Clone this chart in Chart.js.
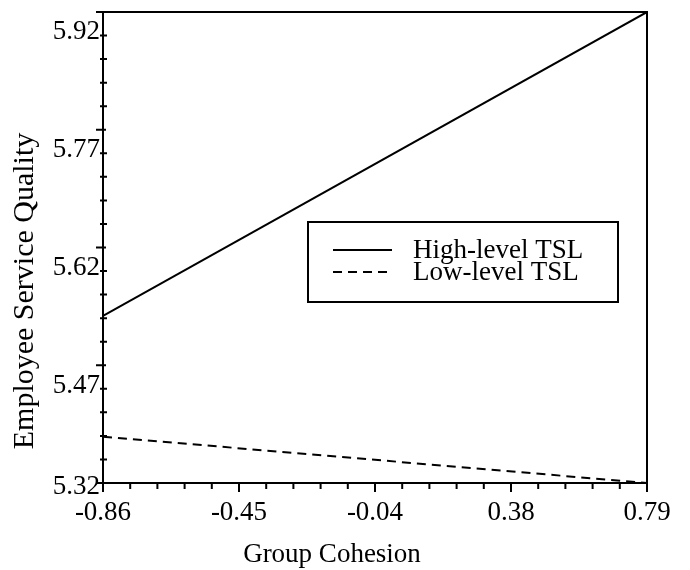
<!DOCTYPE html>
<html>
<head>
<meta charset="utf-8">
<script src="https://cdn.jsdelivr.net/npm/chart.js@4.4.0/dist/chart.umd.min.js"></script>
<style>
  html, body { margin: 0; padding: 0; background: #fff; }
</style>
</head>
<body>
<canvas id="myChart" width="690" height="570"></canvas>
<script>
// data
const groupCohesion = [-0.86, 0.79];
const highTSL = [5.533, 5.92];
const lowTSL = [5.379, 5.32];
const seriesNames = ["High-level TSL", "Low-level TSL"];

// tick values and labels
const xTicks = [-0.86, -0.4475, -0.035, 0.3775, 0.79];
const xTickLabels = ["-0.86", "-0.45", "-0.04", "0.38", "0.79"];
const yTicks = [5.32, 5.47, 5.62, 5.77, 5.92];
const yTickLabels = ["5.32", "5.47", "5.62", "5.77", "5.92"];
const minorPerMajor = 5;

const xTitle = "Group Cohesion";
const yTitle = "Employee Service Quality";

const serif = "'Liberation Serif', 'Times New Roman', serif";
const ctx = document.getElementById("myChart").getContext("2d");

function toPoints(xs, ys) {
  return xs.map((x, i) => ({ x: x, y: ys[i] }));
}

// box round the plot, tick marks, axis titles and the legend
const frameTicks = {
  id: "frameTicks",
  afterDraw(chart, args, opts) {
    const c = chart.ctx;
    const a = chart.chartArea;
    const x = chart.scales.x;
    const y = chart.scales.y;
    c.save();
    c.strokeStyle = "#000";
    c.lineWidth = 2;
    c.strokeRect(a.left, a.top, a.right - a.left, a.bottom - a.top);

    c.beginPath();
    for (let i = 0; i < xTicks.length; i++) {
      const px = x.getPixelForValue(xTicks[i]);
      c.moveTo(px, a.bottom);
      c.lineTo(px, a.bottom + 9);
      if (i === xTicks.length - 1) break;
      const step = (xTicks[i + 1] - xTicks[i]) / minorPerMajor;
      for (let k = 1; k < minorPerMajor; k++) {
        const mx = x.getPixelForValue(xTicks[i] + k * step);
        c.moveTo(mx, a.bottom);
        c.lineTo(mx, a.bottom + 6);
      }
    }
    for (let i = 0; i < yTicks.length; i++) {
      const py = y.getPixelForValue(yTicks[i]);
      c.moveTo(a.left - 7, py);
      c.lineTo(a.left + 3, py);
      if (i === yTicks.length - 1) break;
      const step = (yTicks[i + 1] - yTicks[i]) / minorPerMajor;
      for (let k = 1; k < minorPerMajor; k++) {
        const my = y.getPixelForValue(yTicks[i] + k * step);
        c.moveTo(a.left - 3, my);
        c.lineTo(a.left + 4, my);
      }
    }
    c.stroke();

    c.fillStyle = "#000";
    c.textBaseline = "middle";

    // axis titles (they sit off-centre in the original)
    c.textAlign = "center";
    c.font = "27px " + serif;
    c.fillText(xTitle, opts.xTitlePos[0], opts.xTitlePos[1]);
    c.save();
    c.translate(opts.yTitlePos[0], opts.yTitlePos[1]);
    c.rotate(-Math.PI / 2);
    c.font = "30px " + serif;
    c.fillText(yTitle, 0, 0);
    c.restore();

    // legend
    const b = opts.box;
    c.lineWidth = 2;
    c.strokeRect(b.left, b.top, b.right - b.left, b.bottom - b.top);
    c.font = "27px " + serif;
    c.textAlign = "left";
    chart.data.datasets.forEach((ds, i) => {
      const ry = opts.rowY[i];
      c.beginPath();
      c.setLineDash(ds.borderDash || []);
      c.moveTo(opts.sampleX[0], ry);
      c.lineTo(opts.sampleX[1], ry);
      c.stroke();
      c.setLineDash([]);
      c.fillText(ds.label, opts.textX, ry + 1);
    });
    c.restore();
  }
};

const myChart = new Chart(ctx, {
  type: "line",
  data: {
    datasets: [
      {
        label: seriesNames[0],
        data: toPoints(groupCohesion, highTSL),
        borderColor: "#000",
        borderWidth: 2,
        pointRadius: 0,
      },
      {
        label: seriesNames[1],
        data: toPoints(groupCohesion, lowTSL),
        borderColor: "#000",
        borderWidth: 2,
        borderDash: [9, 6],
        pointRadius: 0,
      },
    ],
  },
  options: {
    responsive: false,
    animation: false,
    layout: { padding: { top: 12, right: 43, left: 0, bottom: 0 } },
    plugins: {
      legend: { display: false },
      tooltip: { enabled: false },
      frameTicks: {
        box: { left: 308, top: 222, right: 618, bottom: 302 },
        sampleX: [333, 392],
        rowY: [250, 272],
        textX: 413,
        xTitlePos: [332, 555],
        yTitlePos: [25, 291],
      },
    },
    scales: {
      x: {
        type: "linear",
        min: -0.86,
        max: 0.79,
        afterBuildTicks: (s) => { s.ticks = xTicks.map((v) => ({ value: v })); },
        afterFit: (s) => { s.height = 87; s.paddingLeft = 0; s.paddingRight = 0; },
        grid: { display: false, drawTicks: false },
        border: { display: false },
        ticks: {
          color: "#000",
          font: { family: serif, size: 27 },
          padding: 14,
          autoSkip: false,
          maxRotation: 0,
          callback: (v, i) => xTickLabels[i],
        },
      },
      y: {
        type: "linear",
        min: 5.32,
        max: 5.92,
        afterBuildTicks: (s) => { s.ticks = yTicks.map((v) => ({ value: v })); },
        afterFit: (s) => { s.width = 103; s.paddingTop = 0; s.paddingBottom = 0; },
        grid: { display: false, drawTicks: false },
        border: { display: false },
        ticks: {
          color: "#000",
          font: { family: serif, size: 27 },
          padding: 3,
          labelOffset: 4,
          autoSkip: false,
          // labels sit just below their tick, except the bottom one
          callback: (v, i) => (i === 0 ? yTickLabels[i] : ["", yTickLabels[i]]),
        },
      },
    },
  },
  plugins: [frameTicks],
});
</script>
</body>
</html>
